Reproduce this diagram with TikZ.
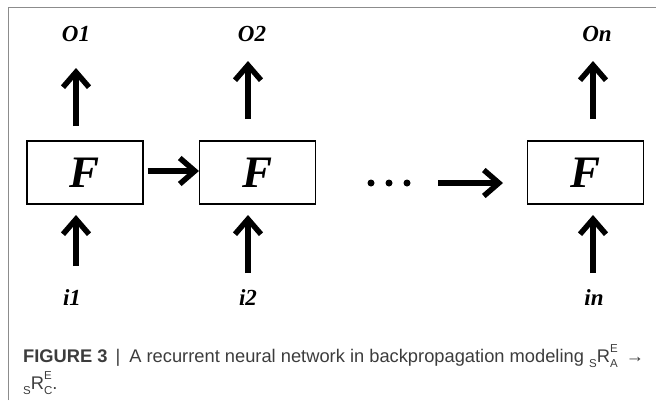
\documentclass[tikz,border=0pt]{standalone}
\usepackage{fontspec}
\setmainfont{Liberation Serif}
\newfontfamily\capfont{Liberation Sans}
\usetikzlibrary{arrows.meta}
\definecolor{capgray}{HTML}{3C3C3C}
\definecolor{framegray}{HTML}{8C8C8C}
\newcommand\capsub[1]{\raisebox{-0.3em}{\fontsize{11.5}{11.5}\selectfont #1}}
\newcommand\capsupsub[2]{\rlap{\raisebox{0.5em}{\fontsize{11.5}{11.5}\selectfont #1}}\raisebox{-0.3em}{\fontsize{11.5}{11.5}\selectfont #2}}
\begin{document}
\begin{tikzpicture}[x=1pt,y=-1pt,
  fbox/.style={draw=black, line width=1.1pt, minimum width=116pt, minimum height=63pt, inner sep=0pt,
    font=\fontsize{45}{45}\selectfont\bfseries\itshape},
  lbl/.style={inner sep=0pt, anchor=base, font=\fontsize{23}{23}\selectfont\bfseries\itshape},
  arr/.style={line width=5.5pt, -{Straight Barb[length=15pt,width=26pt]}},
  dotnode/.style={circle, fill=black, inner sep=0pt, minimum size=7pt},
  captext/.style={inner sep=0pt, anchor=base west, text=capgray, font=\capfont\fontsize{18.3}{18.3}\selectfont}]
\useasboundingbox (0,0) rectangle (656,400);
\draw[framegray, line width=1pt] (8,400) -- (8,7) -- (656,7);

% boxes
\node[fbox] (F1) at (85,172.5) {F};
\node[fbox] (F2) at (257.5,172.5) {F};
\node[fbox] (F3) at (585.5,172.5) {F};

% labels
\node[lbl] (o1) at (76,41) {O1};
\node[lbl] (o2) at (252,41) {O2};
\node[lbl] (on) at (597,41) {On};
\node[lbl] (i1) at (72,305) {i1};
\node[lbl] (i2) at (248,305) {i2};
\node[lbl] (in) at (594,305) {in};

% arrow end points
\coordinate (u1s) at (76,126);  \coordinate (u1e) at (76,68);
\coordinate (u2s) at (248,119); \coordinate (u2e) at (248,61);
\coordinate (u3s) at (593,119); \coordinate (u3e) at (593,61);
\coordinate (d1s) at (76,266);  \coordinate (d1e) at (76,215);
\coordinate (d2s) at (248,273); \coordinate (d2e) at (248,215);
\coordinate (d3s) at (593,273); \coordinate (d3e) at (593,215);
\coordinate (h2s) at (438,183); \coordinate (h2e) at (503,183);

\draw[arr] (u1s) -- (u1e);
\draw[arr] (u2s) -- (u2e);
\draw[arr] (u3s) -- (u3e);
\draw[arr] (d1s) -- (d1e);
\draw[arr] (d2s) -- (d2e);
\draw[arr] (d3s) -- (d3e);
\draw[arr] ([xshift=4pt,yshift=1.5pt]F1.east) -- ([yshift=1.5pt]F2.west);
\draw[arr] (h2s) -- (h2e);

% dots
\node[dotnode] (dt1) at (371,183) {};
\node[dotnode] (dt2) at (389,183) {};
\node[dotnode] (dt3) at (407,183) {};

% caption
\node[captext] (cap1) at (23,362) {\textbf{FIGURE 3}\hspace{8pt}|\hspace{9pt}A recurrent neural network in backpropagation modeling \capsub{S}R\capsupsub{E}{A}\hspace{3pt} →};
\node[captext] (cap2) at (23,389) {\capsub{S}R\capsupsub{E}{C}.};
\end{tikzpicture}
\end{document}
